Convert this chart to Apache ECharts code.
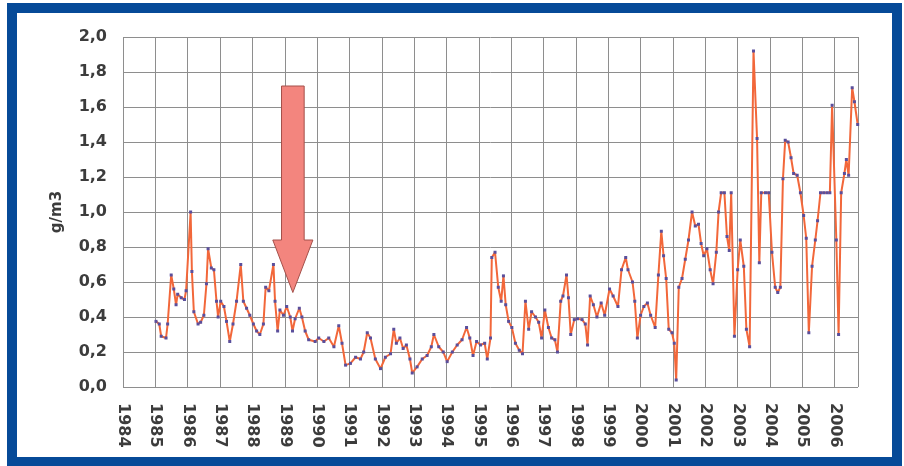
<!DOCTYPE html>
<html>
<head>
<meta charset="utf-8">
<script src="https://cdn.jsdelivr.net/npm/echarts@6/dist/echarts.min.js"></script>
<style>
  html, body { margin: 0; padding: 0; background: #fff; }
  .frame {
    position: absolute; left: 7px; top: 3px; width: 895px; height: 463px;
    box-sizing: border-box; border: 10px solid #064a98; border-bottom-width: 9px; background: #fff;
  }
  #chart { position: absolute; left: 0; top: 0; width: 904px; height: 466px; }
</style>
</head>
<body>
<div class="frame"></div>
<div id="chart"></div>
<script>
// decimal year of each reading
const dates = [
  1985.02, 1985.12, 1985.18, 1985.33, 1985.38, 1985.49, 1985.57, 1985.64, 1985.69, 1985.80,
  1985.90, 1985.95, 1986.09, 1986.13, 1986.19, 1986.32, 1986.40, 1986.50, 1986.58, 1986.63,
  1986.73, 1986.81, 1986.89, 1986.94, 1987.02, 1987.12, 1987.20, 1987.30, 1987.40, 1987.51,
  1987.64, 1987.72, 1987.82, 1987.92, 1988.03, 1988.13, 1988.23, 1988.34, 1988.41, 1988.51,
  1988.65, 1988.70, 1988.78, 1988.85, 1988.96, 1989.06, 1989.17, 1989.24, 1989.32, 1989.45,
  1989.53, 1989.63, 1989.74, 1989.94,
  1990.05, 1990.21, 1990.36, 1990.52, 1990.67, 1990.77, 1990.88, 1991.03, 1991.19, 1991.34,
  1991.44, 1991.55, 1991.65, 1991.80, 1991.96, 1992.11, 1992.27, 1992.37, 1992.45, 1992.56,
  1992.66, 1992.76, 1992.87, 1992.94, 1993.09, 1993.25, 1993.40, 1993.53, 1993.61, 1993.76,
  1993.90, 1994.02, 1994.18, 1994.33, 1994.48, 1994.62, 1994.72, 1994.82, 1994.93, 1995.05,
  1995.18, 1995.26, 1995.36,
  1995.40, 1995.50, 1995.60, 1995.69, 1995.76, 1995.83, 1995.92, 1996.02, 1996.13, 1996.25,
  1996.35, 1996.44, 1996.54, 1996.63, 1996.75, 1996.85, 1996.94, 1997.04, 1997.15, 1997.25,
  1997.35, 1997.43, 1997.53, 1997.60, 1997.71, 1997.77, 1997.84, 1997.95, 1998.05, 1998.19,
  1998.29, 1998.36, 1998.44, 1998.54, 1998.65, 1998.78, 1998.89, 1999.04, 1999.15, 1999.30,
  1999.41, 1999.54, 1999.61, 1999.75, 1999.82, 1999.90, 2000.00, 2000.10, 2000.21, 2000.31,
  2000.45, 2000.55, 2000.64, 2000.71, 2000.79,
  2000.87, 2000.97, 2001.04, 2001.10, 2001.18, 2001.28, 2001.38, 2001.48, 2001.59, 2001.69,
  2001.79, 2001.87, 2001.95, 2002.05, 2002.15, 2002.24, 2002.34, 2002.41, 2002.49, 2002.59,
  2002.67, 2002.74, 2002.80, 2002.90, 2003.00, 2003.08, 2003.19, 2003.27, 2003.37, 2003.49,
  2003.60, 2003.67, 2003.73, 2003.86, 2003.96, 2004.06, 2004.16, 2004.24, 2004.32, 2004.40,
  2004.47, 2004.56, 2004.65, 2004.73, 2004.84, 2004.94, 2005.04, 2005.12, 2005.20, 2005.30,
  2005.40, 2005.47, 2005.56, 2005.66, 2005.76, 2005.85, 2005.92, 2006.05, 2006.12, 2006.20,
  2006.30, 2006.36, 2006.43, 2006.54, 2006.61, 2006.71
];

// g/m3
const values = [
  0.375, 0.36, 0.29, 0.28, 0.36, 0.64, 0.56, 0.47, 0.53, 0.51,
  0.50, 0.55, 1.00, 0.66, 0.43, 0.36, 0.37, 0.41, 0.59, 0.79,
  0.68, 0.67, 0.49, 0.40, 0.49, 0.46, 0.375, 0.26, 0.36, 0.49,
  0.70, 0.49, 0.45, 0.41, 0.36, 0.32, 0.30, 0.36, 0.57, 0.55,
  0.70, 0.49, 0.32, 0.44, 0.41, 0.46, 0.40, 0.32, 0.39, 0.45,
  0.40, 0.32, 0.27, 0.26,
  0.28, 0.26, 0.28, 0.23, 0.35, 0.25, 0.125, 0.135, 0.17, 0.16,
  0.20, 0.31, 0.28, 0.16, 0.105, 0.17, 0.19, 0.33, 0.25, 0.28,
  0.22, 0.24, 0.16, 0.08, 0.115, 0.16, 0.18, 0.23, 0.30, 0.23,
  0.20, 0.145, 0.20, 0.24, 0.27, 0.34, 0.28, 0.18, 0.26, 0.24,
  0.25, 0.16, 0.28,
  0.74, 0.77, 0.57, 0.49, 0.635, 0.47, 0.375, 0.34, 0.25, 0.21,
  0.19, 0.49, 0.33, 0.43, 0.40, 0.37, 0.28, 0.44, 0.34, 0.28,
  0.27, 0.20, 0.49, 0.52, 0.64, 0.51, 0.30, 0.385, 0.39, 0.385,
  0.36, 0.24, 0.52, 0.47, 0.40, 0.48, 0.41, 0.56, 0.52, 0.46,
  0.67, 0.74, 0.67, 0.60, 0.49, 0.28, 0.41, 0.46, 0.48, 0.41,
  0.34, 0.64, 0.89, 0.75, 0.62,
  0.33, 0.31, 0.25, 0.04, 0.57, 0.62, 0.73, 0.84, 1.00, 0.92,
  0.93, 0.82, 0.75, 0.79, 0.67, 0.59, 0.77, 1.00, 1.11, 1.11,
  0.86, 0.78, 1.11, 0.29, 0.67, 0.84, 0.69, 0.33, 0.23, 1.92,
  1.42, 0.71, 1.11, 1.11, 1.11, 0.77, 0.57, 0.54, 0.57, 1.19,
  1.41, 1.40, 1.31, 1.22, 1.21, 1.11, 0.98, 0.85, 0.31, 0.69,
  0.84, 0.95, 1.11, 1.11, 1.11, 1.11, 1.61, 0.84, 0.30, 1.11,
  1.22, 1.30, 1.21, 1.71, 1.63, 1.50
];

const yearFirst = 1984;
const yearLast = 2006.72;
const yMin = 0;
const yMax = 2;
const yStep = 0.2;

// the arrow pointing at 1989 (data coordinates)
const arrowYear = 1989.25;
const arrowTop = 1.72;
const arrowNeck = 0.84;
const arrowTip = 0.54;

const labelFont = { fontFamily: "DejaVu Sans", fontWeight: "bold", fontSize: 16, color: "#3c3c3c" };
const gridColor = "#8e8e8e";

const chart = echarts.init(document.getElementById("chart"));

chart.setOption({
  animation: false,
  backgroundColor: "transparent",
  grid: { left: 123, right: 46, top: 37, bottom: 79, containLabel: false },
  xAxis: {
    type: "value",
    min: yearFirst,
    max: yearLast,
    interval: 1,
    axisLine: { show: false },
    axisTick: { show: false },
    splitLine: { show: true, lineStyle: { color: gridColor, width: 1 } },
    axisLabel: {
      ...labelFont,
      rotate: -90,
      margin: 16,
      showMaxLabel: false,
      formatter: (v) => (Number.isInteger(v) ? String(v) : "")
    }
  },
  yAxis: {
    type: "value",
    min: yMin,
    max: yMax,
    interval: yStep,
    name: "g/m3",
    nameLocation: "middle",
    nameGap: 58,
    nameRotate: 90,
    nameTextStyle: { ...labelFont, fontSize: 15 },
    axisLine: { show: false },
    axisTick: { show: false },
    splitLine: { lineStyle: { color: gridColor, width: 1 } },
    axisLabel: {
      ...labelFont,
      margin: 16,
      formatter: (v) => v.toFixed(1).replace(".", ",")
    }
  },
  series: [
    {
      type: "line",
      data: dates.map((d, i) => [d, values[i]]),
      symbol: "rect",
      symbolSize: 3,
      showSymbol: true,
      lineStyle: { color: "#f2673a", width: 2 },
      itemStyle: { color: "#5a4f9c" },
      z: 3
    },
    {
      type: "custom",
      data: [[arrowYear, arrowTop]],
      clip: false,
      z: 5,
      renderItem(params, api) {
        const sw = 0.35;
        const hw = 0.62;
        const p = (x, y) => api.coord([x, y]);
        return {
          type: "polygon",
          shape: {
            points: [
              p(arrowYear - sw, arrowTop),
              p(arrowYear + sw, arrowTop),
              p(arrowYear + sw, arrowNeck),
              p(arrowYear + hw, arrowNeck),
              p(arrowYear, arrowTip),
              p(arrowYear - hw, arrowNeck),
              p(arrowYear - sw, arrowNeck)
            ]
          },
          style: { fill: "#f3857e", stroke: "#a4504a", lineWidth: 1 }
        };
      }
    }
  ]
});
</script>
</body>
</html>
